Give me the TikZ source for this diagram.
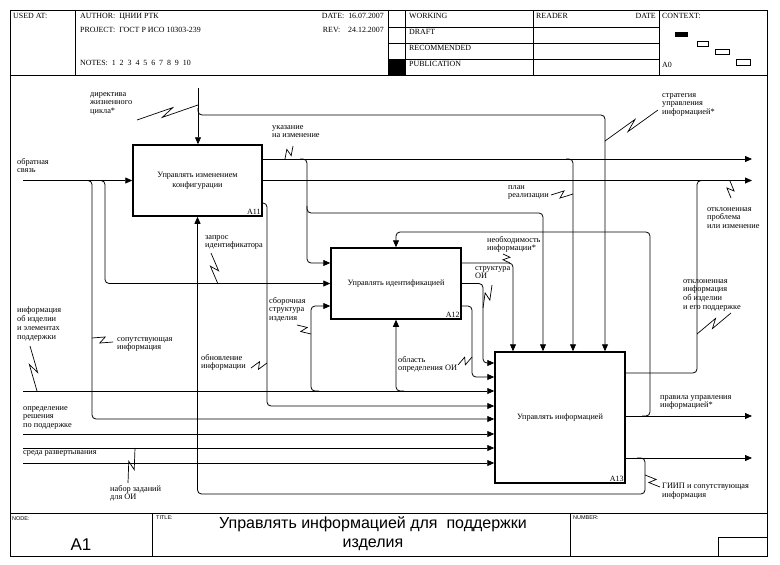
\documentclass[tikz,border=0pt]{standalone}
\usepackage{fontspec}
\setmainfont{Liberation Serif}
\newfontfamily\arialSh{Liberation Sans}
\usetikzlibrary{arrows.meta,calc}

\tikzset{
  blok/.style={draw,line width=1.5pt,inner sep=2pt,align=center,font=\fontsize{8.2}{9.5}\selectfont},
  strelka/.style={line width=0.8pt,rounded corners=4pt,-{Triangle[length=7pt,width=6pt]}},
  liniya/.style={line width=0.8pt,rounded corners=4pt},
  metka/.style={anchor=north west,inner sep=0pt,align=left,font=\fontsize{8.3}{8.8}\selectfont},
  shapka/.style={anchor=north west,inner sep=0pt,font=\fontsize{7.9}{9}\selectfont},
  nomer/.style={anchor=south east,inner sep=2pt,font=\fontsize{8}{9}\selectfont}
}
% молния от метки к стрелке
\newcommand{\molniya}[2]{\draw[line width=0.7pt] (#1) -- ($(#1)!0.6!(#2)!3.5pt!90:(#2)$) -- ($(#1)!0.4!(#2)!3.5pt!-90:(#2)$) -- (#2);}

\begin{document}
\begin{tikzpicture}[x=1pt,y=-1pt]
\useasboundingbox (0,0) rectangle (780,565);
% рамка и шапка
\draw[line width=1pt] (10,10) rectangle (767,556);
\draw (10,75) -- (767,75);
\draw (10,513) -- (767,513);
\foreach \x in {75,388,405,533,659} \draw (\x,10) -- (\x,75);
\foreach \y in {27,43,59} \draw (388,\y) -- (659,\y);
\fill (388,59) rectangle (405,75);
\node[shapka] (usedAt) at (13,13) {USED AT:};
\node[shapka] (avtor) at (80,13) {AUTHOR:\ \ ЦНИИ РТК};
\node[shapka] (proekt) at (80,27) {PROJECT:\ \ ГОСТ Р ИСО 10303-239};
\node[shapka] (zametki) at (80,60) {NOTES:\ \ 1\ \ 2\ \ 3\ \ 4\ \ 5\ \ 6\ \ 7\ \ 8\ \ 9\ \ 10};
\node[shapka,anchor=north east] (data) at (384,13) {DATE:\ \ 16.07.2007};
\node[shapka,anchor=north east] (rev) at (384,27) {REV:\ \ \ \ 24.12.2007};
\node[shapka] (working) at (409,13) {WORKING};
\node[shapka] (draft) at (409,29) {DRAFT};
\node[shapka] (recom) at (409,45) {RECOMMENDED};
\node[shapka] (publ) at (409,61) {PUBLICATION};
\node[shapka] (reader) at (536,13) {READER};
\node[shapka,anchor=north east] (dataR) at (656,13) {DATE};
\node[shapka] (kontekst) at (662,13) {CONTEXT:};
\node[shapka] (a0) at (662,62) {A0};
\fill (675,32) rectangle (688,37);
\draw (697,41) rectangle (708,46);
\draw (715,49) rectangle (729,54);
\draw (736,59) rectangle (750,65);
% подвал
\draw (152,513) -- (152,556);
\draw (570,513) -- (570,556);
\draw (718,537) rectangle (767,556);
\node[shapka,font=\arialSh\fontsize{5.5}{6}\selectfont] (uzel) at (12,516) {NODE:};
\node[shapka,font=\arialSh\fontsize{5.5}{6}\selectfont] (titLbl) at (156,516) {TITLE:};
\node[shapka,font=\arialSh\fontsize{5.5}{6}\selectfont] (nomLbl) at (573,516) {NUMBER:};
\node[font=\arialSh\fontsize{17}{18}\selectfont] (uzelA1) at (81,545) {A1};
\node[font=\arialSh\fontsize{16}{19}\selectfont,align=center] (titul) at (373,534) {Управлять информацией для~~поддержки\\изделия};

% блоки
\node[blok,minimum width=129pt,minimum height=71pt] (a11) at (197.5,180.5) {Управлять изменением\\конфигурации};
\node[blok,minimum width=130pt,minimum height=71pt] (a12) at (396,283.5) {Управлять идентификацией};
\node[blok,minimum width=130pt,minimum height=131pt] (a13) at (560,417.5) {Управлять информацией};
\node[nomer] (a11n) at (a11.south east) {A11};
\node[nomer] (a12n) at (a12.south east) {A12};
\node[nomer] (a13n) at (a13.south east) {A13};

% управление
\coordinate (dirIn) at (198,88);
\draw[strelka] (dirIn) -- (dirIn |- a11.north);
\draw[strelka] (198,108) -- (198,115) -- (605,115) -- ([xshift=45pt]a13.north);
% обратная связь
\coordinate (obrIn) at (23,180.5);
\draw[strelka] (obrIn) -- (obrIn -| a11.west);
\draw[strelka] (84,180.5) -- (92,180.5) -- (92,419) -- (a13.west |- 0,419);
\draw[strelka] (97,180.5) -- (105,180.5) -- (105,283.5) -- (a12.west);
% выходы A11
\coordinate (out1) at (752,159);
\draw[strelka] (a11.east |- out1) -- (out1);
\draw[strelka] (300,159) -- (307,159) -- (307,263) -- (a12.west |- 0,263);
\draw[strelka] (307,206) -- (307,213) -- (543,213) -- ([xshift=-17pt]a13.north);
\draw[strelka] (566,159) -- (573,159) -- ([xshift=13pt]a13.north);
\coordinate (out2) at (752,180.5);
\draw[strelka] (a11.east) -- (out2);
\draw[strelka] (a11.east |- 0,203) -- (267,203) -- (267,406) -- (a13.west |- 0,406);
% выходы A12
\draw[strelka] (a12.east |- 0,263) -- (513,263) -- ([xshift=-47pt]a13.north);
\draw[strelka] (a12.east) -- (483,283.5) -- (483,363) -- (a13.west |- 0,363);
\draw[strelka] (a12.east |- 0,306) -- (472,306) -- (472,377) -- (a13.west |- 0,377);
% выходы A13
\draw[liniya] (a13.east |- 0,373) -- (697,373) -- (697,180.5) -- (705,180.5);
\coordinate (out3) at (752,416);
\draw[strelka] (a13.east |- out3) -- (out3);
\draw[strelka] (642,416) -- (650,416) -- (650,232) -- (396,232) -- (a12.north);
\coordinate (out4) at (752,458);
\draw[strelka] (a13.east |- out4) -- (out4);
\draw[strelka] (637,458) -- (645,458) -- (645,494) -- (197.5,494) -- (a11.south);
% входы слева
\coordinate (infIn) at (23,391);
\draw[strelka] (infIn) -- (infIn -| a13.west);
\draw[strelka] (319,391) -- (311,391) -- (311,306) -- (a12.west |- 0,306);
\draw[strelka] (404,391) -- (396,391) -- (a12.south);
\foreach \y in {434,448,463} \draw[strelka] (23,\y) -- (a13.west |- 0,\y);

% метки
\node[metka] (lDir) at (90,92) {директива\\жизненного\\цикла*};
\molniya{137,120}{198,105}
\node[metka] (lStrat) at (662,93) {стратегия\\управления\\информацией*};
\molniya{658,110}{605,141}
\node[metka] (lUkaz) at (272,125) {указание\\на изменение};
\molniya{293,146}{285,159}
\node[metka] (lObr) at (17,158) {обратная\\связь};
\node[metka] (lPlan) at (508,185) {план\\реализации};
\molniya{551,195}{573,194}
\node[metka] (lOtkl1) at (707,207) {отклоненная\\проблема\\или изменение};
\molniya{731,198}{730,181}
\node[metka] (lNeobh) at (487,236) {необходимость\\информации*};
\molniya{503,254}{510,263}
\node[metka] (lZapros) at (205,235) {запрос\\идентификатора};
\molniya{211,253}{218,284}
\node[metka] (lStrukt) at (475,266) {структура\\ОИ};
\molniya{492,285}{483,308}
\node[metka] (lOtkl2) at (683,279) {отклоненная\\информация\\об изделии\\и его поддержке};
\molniya{731,313}{697,334}
\node[metka] (lSbor) at (269,297) {сборочная\\структура\\изделия};
\molniya{297,325}{311,334}
\node[metka] (lInf) at (17,307) {информация\\об изделии\\и элементах\\поддержки};
\molniya{30,346}{37,391}
\node[metka] (lSoput) at (117,337) {сопутствующая\\информация};
\molniya{113,342}{92,338}
\node[metka] (lObn) at (201,354) {обновление\\информации};
\molniya{251,368}{267,363}
\node[metka] (lObl) at (398,356) {область\\определения ОИ};
\molniya{458,365}{472,357}
\node[metka] (lPrav) at (660,395) {правила управления\\информацией*};
\node[metka] (lOpr) at (23,406) {определение\\решения\\по поддержке};
\node[metka] (lSreda) at (23,450) {среда развертывания};
\node[metka] (lNabor) at (110,485) {набор заданий\\для ОИ};
\molniya{128,483}{135,448}
\node[metka] (lGiip) at (662,483) {ГИИП и сопутствующая\\информация};
\molniya{660,487}{645,475}
\end{tikzpicture}
\end{document}
